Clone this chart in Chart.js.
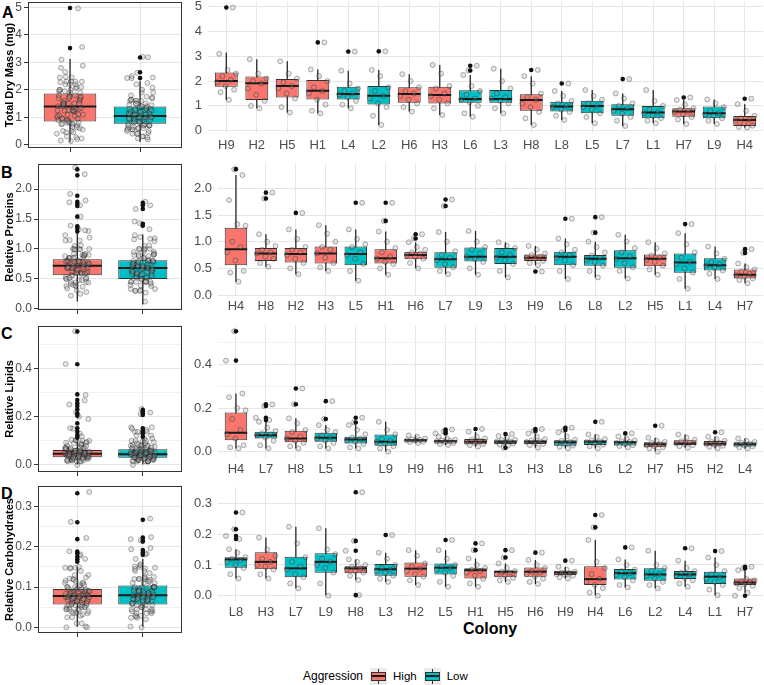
<!DOCTYPE html>
<html>
<head>
<meta charset="utf-8">
<script src="https://cdn.jsdelivr.net/npm/chart.js@4.4.1/dist/chart.umd.min.js"></script>
<style>
    body { margin: 0; background: #fff; font-family: "Liberation Sans", Arial, sans-serif; }
    #page { position: relative; width: 764px; height: 685px; overflow: hidden; background: #fff; }
    canvas { position: absolute; }
    .tag { position: absolute; font-weight: bold; font-size: 16px; line-height: 16px; color: #000; }
    #colony { position: absolute; left: 440px; width: 100px; top: 621px; text-align: center; font-weight: bold; font-size: 16px; line-height: 16px; }
    #legend { position: absolute; left: 303px; top: 667px; height: 18px; display: flex; align-items: center; font-size: 12px; color: #000; }
    .key { position: relative; display: inline-block; width: 17px; height: 17px; background: #EBEBEB; }
    .key::before { content: ''; position: absolute; left: 8px; top: 1px; bottom: 1px; width: 1px; background: #333; }
    .key i { position: absolute; left: 1px; right: 1px; top: 4px; height: 9px; box-sizing: border-box; border: 1px solid #333; }
    .key i::after { content: ''; position: absolute; left: 0; right: 0; top: 2.5px; height: 2px; background: #1a1a1a; }
</style>
</head>
<body>
<div id="page">
    <div class="tag" style="left:2px;top:5px">A</div>
    <div class="tag" style="left:1px;top:165px">B</div>
    <div class="tag" style="left:1px;top:326px">C</div>
    <div class="tag" style="left:1px;top:486px">D</div>
    <div id="colony">Colony</div>
    <div id="legend">
        <span>Aggression</span>
        <span class="key" style="margin-left:7px"><i style="background:#F8766D"></i></span>
        <span style="margin-left:6px;font-size:11.5px">High</span>
        <span class="key" style="margin-left:7px"><i style="background:#00BFC4"></i></span>
        <span style="margin-left:6px;font-size:11.5px">Low</span>
    </div>
</div>
<script>
/* Box plot values, one array per statistic */

/* A - Total dry mass (mg) */
const massColonies = ['H9','H2','H5','H1','L4','L2','H6','H3','L6','L3','H8','L8','L5','L7','L1','H7','L9','H4'];
const massQ1  = [1.77,1.24,1.34,1.26,1.26,1.06,1.13,1.10,1.13,1.13,0.80,0.77,0.70,0.60,0.50,0.56,0.50,0.19];
const massMed = [2.00,1.91,1.80,1.61,1.48,1.41,1.48,1.44,1.28,1.28,1.24,0.97,1.00,0.86,0.73,0.77,0.70,0.43];
const massQ3  = [2.35,2.18,2.08,2.04,1.77,1.80,1.75,1.77,1.63,1.64,1.47,1.17,1.21,1.07,1.00,0.90,0.97,0.59];
const massLo  = [1.24,0.90,0.73,0.70,0.90,0.23,0.77,0.63,0.56,0.70,0.23,0.43,0.30,0.19,0.30,0.27,0.27,0.13];
const massHi  = [3.15,2.88,2.80,2.47,2.42,2.45,2.28,2.65,2.25,2.50,2.20,1.60,1.64,1.50,1.64,1.24,1.26,1.07];
const massOut = [[4.97],[],[],[3.56],[3.19],[3.20],[],[],[2.62,2.43],[],[2.45],[1.90],[],[2.08],[],[1.34],[],[1.29]];
const massPts = [
    [1.24,1.55,1.65,1.8,1.95,2.05,2.2,2.3,2.45,3.1],
    [0.9,1.0,1.2,1.45,1.7,1.9,2.0,2.1,2.3,2.88],
    [0.73,0.95,1.3,1.5,1.7,1.8,1.95,2.1,2.3,2.8],
    [0.7,0.8,1.05,1.25,1.5,1.6,1.75,2.0,2.2,2.47],
    [0.9,1.05,1.2,1.35,1.45,1.5,1.6,1.7,1.9,2.42],
    [0.23,0.6,0.95,1.1,1.3,1.4,1.6,1.75,2.2,2.45],
    [0.77,0.95,1.1,1.25,1.4,1.5,1.6,1.75,2.0,2.28],
    [0.63,0.9,1.1,1.25,1.4,1.5,1.7,1.8,2.3,2.65],
    [0.56,0.7,1.0,1.15,1.25,1.3,1.45,1.6,1.8,2.25],
    [0.7,0.9,1.1,1.2,1.3,1.35,1.5,1.7,2.0,2.5],
    [0.23,0.5,0.75,0.95,1.1,1.25,1.35,1.5,1.9,2.2],
    [0.43,0.6,0.75,0.85,0.95,1.0,1.1,1.2,1.4,1.6],
    [0.3,0.55,0.7,0.85,0.95,1.0,1.1,1.25,1.4,1.64],
    [0.19,0.4,0.55,0.7,0.8,0.9,1.0,1.1,1.3,1.5],
    [0.3,0.4,0.5,0.6,0.7,0.75,0.85,1.0,1.2,1.64],
    [0.27,0.45,0.55,0.65,0.75,0.8,0.85,0.9,1.05,1.24],
    [0.27,0.4,0.5,0.6,0.65,0.7,0.8,0.95,1.1,1.26],
    [0.13,0.15,0.2,0.3,0.4,0.45,0.5,0.6,0.8,1.07]
];
/* groups: [High, Low] */
const massGroupQ1  = [0.85, 0.76];
const massGroupMed = [1.39, 1.05];
const massGroupQ3  = [1.87, 1.39];
const massGroupLo  = [0.10, 0.10];
const massGroupHi  = [3.12, 2.33];
const massGroupOut = [[4.98,3.52],[3.18,2.64,2.43]];
const massTicks = [0,1,2,3,4,5];
const massMinor = [0.5,1.5,2.5,3.5,4.5];

/* B - Relative proteins */
const protColonies = ['H4','H8','H2','H3','L5','H1','H6','L7','L9','L3','H9','L6','L8','L2','H5','L1','L4','H7'];
const protQ1  = [0.56,0.64,0.61,0.59,0.56,0.59,0.67,0.51,0.63,0.58,0.64,0.56,0.55,0.51,0.54,0.42,0.46,0.31];
const protMed = [0.86,0.78,0.77,0.78,0.77,0.69,0.75,0.67,0.72,0.72,0.70,0.72,0.68,0.69,0.68,0.61,0.56,0.38];
const protQ3  = [1.26,0.88,0.88,0.91,0.91,0.86,0.81,0.80,0.89,0.88,0.76,0.81,0.75,0.84,0.76,0.78,0.69,0.48];
const protLo  = [0.25,0.53,0.39,0.45,0.27,0.38,0.50,0.39,0.38,0.33,0.56,0.30,0.33,0.31,0.38,0.12,0.30,0.22];
const protHi  = [2.25,1.14,1.23,1.31,1.23,1.19,0.99,1.18,1.20,0.99,0.92,1.06,1.00,1.13,0.99,1.16,0.91,0.59];
const protOut = [[2.36],[1.92,1.81],[1.54],[],[1.73],[1.73,1.39],[1.14,1.06],[1.79,1.67],[],[],[0.44],[1.43],[1.46,1.17],[],[],[1.33],[],[0.86,0.79]];
const protPts = [
    [0.25,0.42,0.45,0.65,0.8,0.9,1.0,1.3,1.33,1.78,2.25],
    [0.53,0.6,0.68,0.72,0.78,0.8,0.85,0.92,1.0,1.14],
    [0.39,0.5,0.6,0.68,0.75,0.8,0.85,0.9,1.05,1.23],
    [0.45,0.52,0.6,0.7,0.78,0.85,0.9,1.0,1.15,1.31],
    [0.27,0.45,0.58,0.68,0.75,0.8,0.9,0.95,1.05,1.23],
    [0.38,0.5,0.58,0.62,0.68,0.72,0.8,0.88,1.0,1.19],
    [0.5,0.6,0.68,0.72,0.75,0.78,0.8,0.85,0.9,0.99],
    [0.39,0.45,0.52,0.58,0.65,0.7,0.75,0.82,1.0,1.18],
    [0.38,0.5,0.62,0.68,0.72,0.78,0.85,0.9,1.0,1.2],
    [0.33,0.45,0.58,0.65,0.7,0.75,0.8,0.88,0.92,0.99],
    [0.56,0.6,0.64,0.68,0.7,0.72,0.75,0.78,0.85,0.92],
    [0.3,0.45,0.56,0.65,0.7,0.75,0.8,0.85,0.95,1.06],
    [0.33,0.45,0.55,0.62,0.66,0.7,0.74,0.8,0.9,1.0],
    [0.31,0.45,0.52,0.6,0.68,0.72,0.8,0.88,1.0,1.13],
    [0.38,0.48,0.55,0.62,0.66,0.7,0.74,0.78,0.88,0.99],
    [0.12,0.3,0.42,0.5,0.58,0.62,0.7,0.8,0.95,1.16],
    [0.3,0.4,0.46,0.52,0.55,0.58,0.62,0.68,0.78,0.91],
    [0.22,0.28,0.31,0.34,0.37,0.4,0.44,0.48,0.52,0.59]
];
const protGroupQ1  = [0.56, 0.50];
const protGroupMed = [0.72, 0.68];
const protGroupQ3  = [0.83, 0.81];
const protGroupLo  = [0.12, 0.07];
const protGroupHi  = [1.25, 1.24];
const protGroupOut = [[2.33,2.23,1.89,1.79,1.75,1.72,1.54,1.38,1.34,1.29],[1.77,1.73,1.67,1.42,1.39]];
const protTicks = [0,0.5,1,1.5,2];
const protMinor = [0.25,0.75,1.25,1.75,2.25];

/* C - Relative lipids */
const lipColonies = ['H4','L7','H8','L5','L1','L9','H9','H6','H1','L3','H3','L8','L6','L2','H7','H5','H2','L4'];
const lipQ1  = [0.053,0.061,0.043,0.046,0.038,0.027,0.046,0.038,0.034,0.035,0.035,0.027,0.031,0.029,0.020,0.031,0.027,0.024];
const lipMed = [0.087,0.076,0.061,0.064,0.056,0.046,0.052,0.049,0.046,0.046,0.046,0.043,0.046,0.043,0.034,0.038,0.037,0.034];
const lipQ3  = [0.180,0.092,0.096,0.087,0.069,0.079,0.058,0.053,0.058,0.053,0.053,0.053,0.053,0.050,0.043,0.052,0.049,0.043];
const lipLo  = [0.015,0.015,0.015,0.015,0.015,0.000,0.040,0.031,0.023,0.028,0.018,0.015,0.015,0.020,0.000,0.018,0.015,0.015];
const lipHi  = [0.267,0.137,0.153,0.122,0.122,0.137,0.075,0.069,0.092,0.072,0.084,0.089,0.079,0.070,0.064,0.079,0.069,0.061];
const lipOut = [[0.553,0.418],[0.217,0.210,0.156,0.145],[0.290,0.218],[0.232,0.150],[0.156,0.134],[],[],[0.102,0.092,0.084],[0.104],[0.081,0.018],[0.104,0.095],[0.110,0.099],[0.137],[0.084],[0.119],[],[0.089],[]];
const lipPts = [
    [0.015,0.02,0.03,0.06,0.08,0.1,0.15,0.19,0.2,0.25,0.267],
    [0.015,0.03,0.05,0.065,0.075,0.08,0.085,0.095,0.11,0.137],
    [0.015,0.025,0.04,0.05,0.06,0.07,0.09,0.1,0.13,0.153],
    [0.015,0.025,0.04,0.05,0.06,0.065,0.075,0.09,0.1,0.122],
    [0.015,0.02,0.035,0.045,0.05,0.06,0.065,0.08,0.1,0.122],
    [0.0,0.015,0.025,0.035,0.045,0.05,0.06,0.08,0.1,0.137],
    [0.04,0.045,0.047,0.05,0.052,0.054,0.057,0.06,0.07,0.075],
    [0.031,0.035,0.04,0.045,0.048,0.05,0.052,0.055,0.06,0.069],
    [0.023,0.03,0.035,0.04,0.045,0.05,0.055,0.06,0.07,0.092],
    [0.028,0.033,0.038,0.043,0.046,0.048,0.052,0.055,0.065,0.072],
    [0.018,0.03,0.035,0.04,0.045,0.048,0.052,0.058,0.07,0.084],
    [0.015,0.022,0.028,0.035,0.04,0.045,0.05,0.055,0.07,0.089],
    [0.015,0.025,0.032,0.038,0.044,0.048,0.052,0.058,0.068,0.079],
    [0.02,0.026,0.03,0.036,0.04,0.045,0.048,0.052,0.06,0.07],
    [0.0,0.015,0.02,0.025,0.03,0.035,0.04,0.045,0.05,0.064],
    [0.018,0.025,0.03,0.035,0.038,0.042,0.048,0.055,0.065,0.079],
    [0.015,0.022,0.027,0.032,0.036,0.04,0.045,0.05,0.058,0.069],
    [0.015,0.02,0.024,0.028,0.032,0.036,0.04,0.045,0.05,0.061]
];
const lipGroupQ1  = [0.032, 0.030];
const lipGroupMed = [0.047, 0.044];
const lipGroupQ3  = [0.062, 0.065];
const lipGroupLo  = [0.000, 0.000];
const lipGroupHi  = [0.107, 0.115];
const lipGroupOut = [[0.552,0.417,0.292,0.269,0.255,0.244,0.230,0.214,0.204,0.172,0.152,0.138,0.124,0.113],[0.228,0.221,0.214,0.207,0.152,0.141,0.131,0.117]];
const lipTicks = [0,0.2,0.4];
const lipMinor = [0.1,0.3,0.5];

/* D - Relative carbohydrates */
const carbColonies = ['L8','H3','L7','L9','H8','L3','H2','L5','H1','H5','H6','H9','H4','L6','L2','L4','L1','H7'];
const carbQ1  = [0.091,0.086,0.060,0.075,0.073,0.065,0.062,0.069,0.056,0.060,0.062,0.067,0.035,0.053,0.049,0.054,0.038,0.035];
const carbMed = [0.118,0.110,0.089,0.110,0.089,0.086,0.088,0.091,0.083,0.078,0.078,0.075,0.054,0.073,0.069,0.069,0.062,0.043];
const carbQ3  = [0.125,0.141,0.127,0.138,0.096,0.103,0.108,0.105,0.089,0.081,0.092,0.081,0.096,0.087,0.089,0.080,0.078,0.056];
const carbLo  = [0.056,0.056,0.024,0.000,0.051,0.045,0.035,0.029,0.029,0.045,0.038,0.056,0.000,0.027,0.024,0.029,0.002,0.010];
const carbHi  = [0.151,0.189,0.224,0.219,0.118,0.140,0.148,0.148,0.121,0.105,0.116,0.094,0.181,0.118,0.146,0.114,0.124,0.083];
const carbOut = [[0.270,0.216,0.194,0.184],[],[],[],[0.336,0.178,0.146,0.002],[0.197],[],[0.181],[0.170,0.148],[0.148,0.124],[0.140],[0.114],[0.262,0.222],[0.157],[],[0.154],[0.145],[0.094,0.089,0.000]];
const carbPts = [
    [0.056,0.07,0.09,0.1,0.11,0.115,0.12,0.125,0.14,0.151],
    [0.056,0.07,0.085,0.095,0.1,0.11,0.12,0.13,0.15,0.189],
    [0.024,0.04,0.06,0.07,0.085,0.095,0.11,0.125,0.17,0.224],
    [0.0,0.04,0.075,0.09,0.1,0.11,0.12,0.135,0.15,0.219],
    [0.051,0.065,0.075,0.08,0.085,0.09,0.095,0.1,0.11,0.118],
    [0.045,0.055,0.065,0.075,0.08,0.085,0.09,0.1,0.12,0.14],
    [0.035,0.05,0.062,0.07,0.08,0.088,0.095,0.105,0.13,0.148],
    [0.029,0.045,0.065,0.075,0.085,0.09,0.095,0.1,0.12,0.148],
    [0.029,0.04,0.055,0.065,0.075,0.08,0.085,0.09,0.1,0.121],
    [0.045,0.05,0.058,0.065,0.07,0.075,0.078,0.08,0.09,0.105],
    [0.038,0.045,0.055,0.062,0.07,0.075,0.08,0.09,0.1,0.116],
    [0.056,0.06,0.065,0.068,0.07,0.073,0.075,0.078,0.085,0.094],
    [0.0,0.01,0.025,0.035,0.045,0.055,0.07,0.09,0.11,0.181],
    [0.027,0.035,0.05,0.06,0.068,0.073,0.08,0.085,0.1,0.118],
    [0.024,0.035,0.045,0.055,0.065,0.07,0.08,0.09,0.1,0.146],
    [0.029,0.04,0.05,0.058,0.065,0.07,0.075,0.08,0.09,0.114],
    [0.002,0.02,0.035,0.045,0.055,0.06,0.07,0.08,0.1,0.124],
    [0.01,0.025,0.032,0.036,0.04,0.043,0.046,0.05,0.055,0.083]
];
const carbGroupQ1  = [0.057, 0.057];
const carbGroupMed = [0.078, 0.080];
const carbGroupQ3  = [0.095, 0.104];
const carbGroupLo  = [0.000, 0.000];
const carbGroupHi  = [0.150, 0.170];
const carbGroupOut = [[0.333,0.261,0.219,0.188,0.184,0.176,0.169,0.163],[0.267,0.223,0.217,0.213,0.192,0.186,0.180]];
const carbTicks = [0,0.1,0.2,0.3];
const carbMinor = [0.05,0.15,0.25,0.35];

const groupNames = ['High', 'Low'];

/* ---------- drawing ---------- */
const HIGH = '#F8766D';
const LOW = '#00BFC4';
const page = document.getElementById('page');
Chart.defaults.font.family = '"Liberation Sans", Arial, sans-serif';

/* spread points sideways like geom_jitter */
function jit(k, w) {
    return ((((k + 1) * 0.6180339887) % 1) - 0.5) * 2 * w;
}

function groupPoints(colonies, pts, outs, letter) {
    return colonies.flatMap((c, i) => c[0] === letter ? pts[i].concat(outs[i]) : []);
}

function place(r, yW, padT, padR, xH) {
    const left = Math.floor(r.l - yW), top = Math.floor(r.t - padT);
    const w = Math.ceil(r.r + padR - left), h = Math.ceil(r.b + xH - top);
    const c = document.createElement('canvas');
    c.width = w; c.height = h;
    c.style.left = left + 'px';
    c.style.top = top + 'px';
    page.appendChild(c);
    return { c, yW: r.l - left, padT: r.t - top, padR: left + w - r.r, xH: top + h - r.b };
}

function noPad(s) {
    s.paddingLeft = 0; s.paddingRight = 0; s.paddingTop = 0; s.paddingBottom = 0;
}

const frame = {
    id: 'frame',
    afterDraw(chart) {
        const a = chart.chartArea, ctx = chart.ctx;
        ctx.save();
        ctx.strokeStyle = '#333333';
        ctx.lineWidth = 1;
        ctx.strokeRect(Math.round(a.left) + 0.5, Math.round(a.top) + 0.5,
            Math.round(a.right - a.left) - 1, Math.round(a.bottom - a.top) - 1);
        ctx.restore();
    }
};

function boxChart(r, d, isLeft) {
    const p = isLeft ? place(r, r.l, 6, 3, 8) : place(r, 40, 8, 6, 24);
    const n = d.cats.length;
    const halfBox = c => {
        const s = c.chart.scales.x;
        return Math.abs(s.getPixelForValue(1) - s.getPixelForValue(0)) * 0.375;
    };
    const minorTicks = d.minor.filter(v => v > d.ymin && v < d.ymax);
    const yTicks = d.major.map(v => ({ value: v }))
        .concat(minorTicks.map(v => ({ value: v, minor: true })))
        .sort((a, b) => a.value - b.value);
    const jw = isLeft ? 0.19 : 0.36;

    const jitterData = d.cats.flatMap((c, i) =>
        d.pts[i].concat(isLeft ? [] : d.outs[i]).map((y, k) => ({ x: i + jit(k, jw), y })));
    const outData = d.cats.flatMap((c, i) => d.outs[i].map(y => ({ x: i, y })));
    const fontSize = isLeft ? 12 : 13;

    new Chart(p.c, {
        type: 'bar',
        data: {
            datasets: [
                {
                    type: 'bar', order: 5, grouped: false, maxBarThickness: 1.3,
                    data: d.cats.map((c, i) => ({ x: i, y: [d.lo[i], d.hi[i]] })),
                    backgroundColor: '#262626', borderWidth: 0
                },
                {
                    type: 'bar', order: 4, grouped: false,
                    barPercentage: 0.75, categoryPercentage: 1,
                    data: d.cats.map((c, i) => ({ x: i, y: [d.q1[i], d.q3[i]] })),
                    backgroundColor: d.colors, borderColor: '#333333',
                    borderWidth: 1, borderSkipped: false
                },
                {
                    type: 'scatter', order: 3,
                    data: d.cats.map((c, i) => ({ x: i, y: d.med[i] })),
                    pointStyle: 'line', pointRadius: halfBox,
                    pointBorderWidth: 2, pointBorderColor: '#1A1A1A'
                },
                {
                    type: 'scatter', order: 1,
                    data: outData,
                    pointRadius: 2.3, pointBorderWidth: 0,
                    pointBackgroundColor: '#111111'
                },
                {
                    type: 'scatter', order: 2,
                    data: jitterData,
                    pointRadius: 2.5, pointBorderWidth: 0.9,
                    pointBackgroundColor: 'rgba(150,150,150,0.25)',
                    pointBorderColor: 'rgba(0,0,0,0.32)'
                }
            ]
        },
        options: {
            responsive: false,
            devicePixelRatio: 1,
            animation: false,
            events: [],
            layout: { padding: { top: p.padT, right: p.padR, bottom: 0, left: 0 } },
            plugins: { legend: { display: false }, tooltip: { enabled: false } },
            scales: {
                x: {
                    type: 'linear', bounds: 'data', offset: false,
                    min: -0.6, max: n - 0.4,
                    afterBuildTicks: s => { s.ticks = d.cats.map((c, i) => ({ value: i })); },
                    afterFit: s => { s.height = p.xH; noPad(s); },
                    ticks: {
                        autoSkip: false, maxRotation: 0, minRotation: 0,
                        padding: 4, color: '#4D4D4D', font: { size: fontSize },
                        callback: (v, i) => isLeft ? '' : d.cats[i]
                    },
                    grid: {
                        offset: false, color: '#E6E6E6', lineWidth: 1,
                        drawTicks: isLeft, tickLength: 4, tickColor: '#333333'
                    },
                    border: { display: false }
                },
                y: {
                    type: 'linear', bounds: 'data',
                    min: d.ymin, max: d.ymax,
                    afterBuildTicks: s => { s.ticks = yTicks.map(t => Object.assign({}, t)); },
                    afterFit: s => { s.width = p.yW; noPad(s); },
                    ticks: {
                        padding: isLeft ? 2 : 6, color: '#4D4D4D', font: { size: fontSize },
                        callback: (v, i, ts) => ts[i].minor ? '' : d.fmt(v)
                    },
                    grid: {
                        color: c => (c.tick && c.tick.minor) ? '#F1F1F1' : '#E6E6E6',
                        lineWidth: 1,
                        drawTicks: isLeft, tickLength: 4,
                        tickColor: c => (c.tick && c.tick.minor) ? 'rgba(0,0,0,0)' : '#333333'
                    },
                    border: { display: false },
                    title: {
                        display: isLeft && !!d.title, text: d.title || '',
                        color: '#000', font: { size: 11, weight: 'bold' },
                        padding: { top: 3, bottom: 0 }
                    }
                }
            }
        },
        plugins: isLeft ? [frame] : []
    });
}

const fmtInt = v => String(Math.round(v));
const fmt1 = v => v.toFixed(1);

function colonyPanel(cats, q1, med, q3, lo, hi, outs, pts, ymin, ymax, major, minor, fmt) {
    return {
        cats, colors: cats.map(c => c[0] === 'H' ? HIGH : LOW),
        q1, med, q3, lo, hi, outs, pts, ymin, ymax, major, minor, fmt
    };
}

function groupPanel(colonies, pts, outs, q1, med, q3, lo, hi, gOut, ymin, ymax, major, minor, fmt, title) {
    return {
        cats: groupNames, colors: [HIGH, LOW],
        q1, med, q3, lo, hi, outs: gOut,
        pts: [groupPoints(colonies, pts, outs, 'H'), groupPoints(colonies, pts, outs, 'L')],
        ymin, ymax, major, minor, fmt, title
    };
}

/* left column: pooled by aggression */
boxChart({ l: 28, t: 2, r: 184, b: 148 },
    groupPanel(massColonies, massPts, massOut, massGroupQ1, massGroupMed, massGroupQ3, massGroupLo, massGroupHi, massGroupOut,
        -0.12, 5.2, massTicks, massMinor, fmtInt, 'Total Dry Mass (mg)'), true);
boxChart({ l: 38, t: 164, r: 184, b: 310 },
    groupPanel(protColonies, protPts, protOut, protGroupQ1, protGroupMed, protGroupQ3, protGroupLo, protGroupHi, protGroupOut,
        -0.02, 2.42, protTicks, protMinor, fmt1, 'Relative Proteins'), true);
boxChart({ l: 38, t: 326, r: 184, b: 472 },
    groupPanel(lipColonies, lipPts, lipOut, lipGroupQ1, lipGroupMed, lipGroupQ3, lipGroupLo, lipGroupHi, lipGroupOut,
        -0.029, 0.575, lipTicks, lipMinor, fmt1, 'Relative Lipids'), true);
boxChart({ l: 38, t: 486, r: 184, b: 633 },
    groupPanel(carbColonies, carbPts, carbOut, carbGroupQ1, carbGroupMed, carbGroupQ3, carbGroupLo, carbGroupHi, carbGroupOut,
        -0.014, 0.351, carbTicks, carbMinor, fmt1, 'Relative Carbohydrates'), true);

/* right column: per colony */
boxChart({ l: 208, t: 1.5, r: 763, b: 133.4 },
    colonyPanel(massColonies, massQ1, massMed, massQ3, massLo, massHi, massOut, massPts,
        -0.11, 5.21, massTicks, massMinor, fmtInt), false);
boxChart({ l: 218, t: 163.3, r: 763, b: 294.6 },
    colonyPanel(protColonies, protQ1, protMed, protQ3, protLo, protHi, protOut, protPts,
        0.008, 2.47, protTicks, protMinor, fmt1), false);
boxChart({ l: 218, t: 325.3, r: 763, b: 457.8 },
    colonyPanel(lipColonies, lipQ1, lipMed, lipQ3, lipLo, lipHi, lipOut, lipPts,
        -0.028, 0.58, lipTicks, lipMinor, fmt1), false);
boxChart({ l: 218, t: 487, r: 763, b: 601 },
    colonyPanel(carbColonies, carbQ1, carbMed, carbQ3, carbLo, carbHi, carbOut, carbPts,
        -0.017, 0.353, carbTicks, carbMinor, fmt1), false);
</script>
</body>
</html>
